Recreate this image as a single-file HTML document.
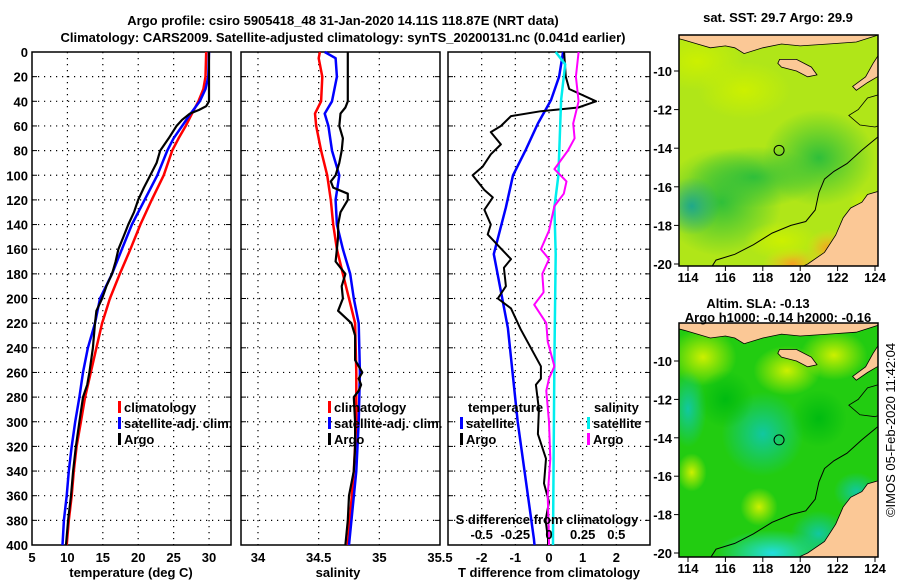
<!DOCTYPE html>
<html><head><meta charset="utf-8"><style>
body{margin:0;background:#fff}
svg text{font-family:"Liberation Sans",sans-serif;font-weight:bold;font-size:13px;fill:#000}
</style></head><body>
<svg id="c" width="900" height="580" viewBox="0 0 900 580" xmlns="http://www.w3.org/2000/svg">
<defs>
<radialGradient id="g1" cx="0.5" cy="0.5" r="0.5"><stop offset="0" stop-color="#2fbf3a"/><stop offset="1" stop-color="#2fbf3a" stop-opacity="0"/></radialGradient>
<radialGradient id="g2" cx="0.5" cy="0.5" r="0.5"><stop offset="0" stop-color="#1fa88a"/><stop offset="1" stop-color="#1fa88a" stop-opacity="0"/></radialGradient>
<radialGradient id="g3" cx="0.5" cy="0.5" r="0.5"><stop offset="0" stop-color="#f5a020"/><stop offset="1" stop-color="#f5d020" stop-opacity="0"/></radialGradient>
<radialGradient id="g4" cx="0.5" cy="0.5" r="0.5"><stop offset="0" stop-color="#ccf000"/><stop offset="1" stop-color="#ccf000" stop-opacity="0"/></radialGradient>
<radialGradient id="g5" cx="0.5" cy="0.5" r="0.5"><stop offset="0" stop-color="#11c8a0"/><stop offset="1" stop-color="#11c8a0" stop-opacity="0"/></radialGradient>
<radialGradient id="g6" cx="0.5" cy="0.5" r="0.5"><stop offset="0" stop-color="#22dde0"/><stop offset="1" stop-color="#22dde0" stop-opacity="0"/></radialGradient>
<radialGradient id="g7" cx="0.5" cy="0.5" r="0.5"><stop offset="0" stop-color="#00bb11"/><stop offset="1" stop-color="#00bb11" stop-opacity="0"/></radialGradient>
<clipPath id="cm1"><rect x="679" y="35" width="199" height="231"/></clipPath>
<clipPath id="cm2"><rect x="679" y="323" width="199" height="234"/></clipPath>
</defs>
<text x="343" y="25" text-anchor="middle" font-size="14">Argo profile: csiro 5905418_48 31-Jan-2020 14.11S 118.87E (NRT data)</text>
<text x="343" y="42" text-anchor="middle" font-size="14">Climatology: CARS2009. Satellite-adjusted climatology: synTS_20200131.nc (0.041d earlier)</text>
<g id="p1"></g>
<g id="p2"></g>
<g id="p3"></g>
<g id="m1"></g>
<g id="m2"></g>
<text x="778" y="22" text-anchor="middle">sat. SST: 29.7 Argo: 29.9</text>
<text x="758" y="308" text-anchor="middle">Altim. SLA: -0.13</text>
<text x="778" y="322" text-anchor="middle">Argo h1000: -0.14 h2000: -0.16</text>
<text transform="translate(895,430) rotate(-90)" text-anchor="middle" style="font-weight:normal">©IMOS 05-Feb-2020 11:42:04</text>
</svg>
<script>
// ---- data ----
const depthTicks=[0,20,40,60,80,100,120,140,160,180,200,220,240,260,280,300,320,340,360,380,400];
const tempTicks=[5,10,15,20,25,30];
const salTicks=[34,34.5,35,35.5];
const salTickLabels=["34","34.5","35","35.5"];
const tdTicks=[-2,-1,0,1,2];
const tdTickLabels=["-2","-1","0","1","2"];
const sdTicks=[-0.5,-0.25,0,0.25,0.5];
const sdTickLabels=["-0.5","-0.25","0","0.25","0.5"];

const tClimD=[0,20,30,40,50,60,70,80,100,120,140,160,180,200,220,240,260,280,300,320,340,360,380,400];
const tClimV=[29.6,29.5,29.2,28.5,27.6,26.7,25.7,24.8,23.6,21.9,20.3,18.9,17.4,16.0,14.9,14.1,13.3,12.5,11.9,11.3,10.9,10.6,10.2,9.9];
const tSatD=[0,20,30,40,50,60,70,80,100,120,140,160,180,200,220,240,260,280,300,320,340,360,380,400];
const tSatV=[30.0,29.9,29.5,28.7,27.4,26.2,25.0,24.1,22.7,20.9,19.1,17.7,16.3,14.6,13.9,12.9,12.2,11.7,11.1,10.6,10.2,9.9,9.5,9.3];
const tArgoD=[0,20,40,44,47,50,55,60,70,80,90,100,110,120,130,140,150,160,170,180,190,200,210,220,240,260,270,280,300,320,340,360,380,400];
const tArgoV=[30.0,30.0,30.0,29.6,28.6,27.3,26.2,25.4,24.3,23.1,22.6,21.7,20.8,20.0,19.4,18.6,17.9,17.2,16.8,16.3,15.5,14.9,14.1,13.9,13.6,13.1,12.8,12.2,11.7,11.2,10.8,10.5,10.1,9.8];

const sClimD=[0,5,20,40,50,60,80,100,120,140,160,180,200,220,260,300,340,400];
const sClimV=[34.51,34.50,34.53,34.52,34.47,34.48,34.52,34.57,34.60,34.62,34.65,34.70,34.75,34.80,34.81,34.81,34.79,34.74];
const sSatD=[0,5,20,40,50,60,80,100,120,140,160,180,200,220,260,300,340,400];
const sSatV=[34.55,34.64,34.65,34.61,34.55,34.58,34.61,34.67,34.64,34.65,34.70,34.76,34.79,34.83,34.84,34.83,34.81,34.75];
const sArgoD=[0,40,45,50,60,70,80,90,100,105,110,115,120,130,140,150,160,170,180,190,200,210,220,230,250,260,265,270,275,280,300,320,340,360,380,400];
const sArgoV=[34.74,34.74,34.72,34.68,34.67,34.70,34.69,34.67,34.64,34.60,34.62,34.74,34.74,34.68,34.66,34.66,34.65,34.64,34.72,34.69,34.70,34.66,34.77,34.80,34.80,34.86,34.83,34.85,34.83,34.79,34.80,34.80,34.79,34.75,34.74,34.72];

const dTSatD=[0,20,39,58,80,100,126,164,224,300,395,400];
const dTSatV=[0.42,0.3,0.06,-0.33,-0.7,-1.07,-1.28,-1.64,-1.22,-0.93,-0.45,-0.43];
const dTArgoD=[0,20,30,40,45,48,52,60,65,75,83,93,100,112,118,128,140,148,158,168,175,190,200,208,225,240,255,265,270,290,310,330,350,365,380,395,400];
const dTArgoV=[0.45,0.5,0.6,1.4,0.87,-0.24,-1.13,-1.43,-1.73,-1.43,-1.73,-1.97,-2.27,-1.92,-1.67,-1.92,-1.73,-1.82,-1.48,-1.13,-1.34,-1.28,-1.52,-1.13,-0.84,-0.54,-0.24,-0.24,-0.39,-0.3,-0.33,-0.09,-0.15,0.0,-0.1,-0.03,-0.03];
const dSSatD=[0,10,39,100,126,164,250,395,400];
const dSSatV=[0.05,0.12,0.09,0.07,0.04,0.05,0.04,0.03,0.03];
const dSArgoD=[0,20,40,58,70,80,95,105,115,125,145,160,168,180,195,205,220,235,255,265,275,300,330,360,395,400];
const dSArgoV=[0.22,0.2,0.22,0.18,0.19,0.14,0.04,0.13,0.11,0.04,0.0,-0.06,0.0,-0.05,-0.04,-0.11,-0.02,-0.01,0.04,0.0,-0.02,0.0,0.01,-0.01,0.0,0.0];

const mapLonTicks=[114,116,118,120,122,124];
const mapLatTicks=[-10,-12,-14,-16,-18,-20];
const floatLon=118.87, floatLat=-14.11;

// ---- helpers ----
const NS="http://www.w3.org/2000/svg";
function mk(tag,attrs,parent,txt){const e=document.createElementNS(NS,tag);for(const k in attrs)e.setAttribute(k,attrs[k]);if(txt!==undefined)e.textContent=txt;parent.appendChild(e);return e;}
const yTop=52,yBot=545;
function yD(d){return yTop+(d/400)*(yBot-yTop);}

function panel(g,x0,x1,dmin,dmax,ticks,labels,showDepth){
  const xs=v=>x0+(v-dmin)/(dmax-dmin)*(x1-x0);
  for(const d of depthTicks){if(d>0&&d<400){const l=mk('line',{x1:x0,x2:x1,y1:yD(d),y2:yD(d),stroke:'#000','stroke-width':1.2,'stroke-dasharray':'1.2 4.8'},g);}
    const t1=mk('line',{x1:x0,x2:x0+5,y1:yD(d),y2:yD(d),stroke:'#000'},g);
    const t2=mk('line',{x1:x1-5,x2:x1,y1:yD(d),y2:yD(d),stroke:'#000'},g);
    if(showDepth){const t=mk('text',{x:x0-4,y:yD(d)+5,'text-anchor':'end'},g,String(d));}}
  ticks.forEach((v,i)=>{const x=xs(v);
    if(x>x0+1&&x<x1-1){const l=mk('line',{x1:x,x2:x,y1:yTop,y2:yBot,stroke:'#000','stroke-width':1.2,'stroke-dasharray':'1.2 4.8'},g);}
    if(labels){const t=mk('text',{x:x,y:562,'text-anchor':'middle'},g,labels[i]);}});
  const r=mk('rect',{x:x0,y:yTop,width:x1-x0,height:yBot-yTop,fill:'none',stroke:'#000','stroke-width':1.5},g);
  return xs;
}
function line(g,xs,D,V,color,w,name,scale){const pts=D.map((d,i)=>xs(V[i]*(scale||1)).toFixed(1)+','+yD(d).toFixed(1)).join(' ');
  const p=mk('polyline',{points:pts,fill:'none',stroke:color,'stroke-width':w,'stroke-linejoin':'round'},g);}
function legend(g,x,y,items){items.forEach((it,i)=>{const yy=y+i*16;
  const m=mk('rect',{x:x,y:yy-10,width:3,height:12,fill:it[1]},g);
  const t=mk('text',{x:x+6,y:yy+1},g,it[0]);});}

// panel 1
const p1=document.getElementById('p1');
const xT=panel(p1,32,231,5,33.1,tempTicks,tempTicks.map(String),true);
line(p1,xT,tClimD,tClimV,'#f00',2.5,'climatology-temp-line');
line(p1,xT,tSatD,tSatV,'#00f',2.5,'satellite-temp-line');
line(p1,xT,tArgoD,tArgoV,'#000',2.2,'argo-temp-line');
legend(p1,118,411,[['climatology','#f00'],['satellite-adj. clim.','#00f'],['Argo','#000']]);
mk('text',{x:131,y:577,'text-anchor':'middle',},p1,'temperature (deg C)');

// panel 2
const p2=document.getElementById('p2');
const xS=panel(p2,241,440,33.86,35.5,salTicks,salTickLabels,false);
line(p2,xS,sClimD,sClimV,'#f00',2.5,'climatology-sal-line');
line(p2,xS,sSatD,sSatV,'#00f',2.5,'satellite-sal-line');
line(p2,xS,sArgoD,sArgoV,'#000',2.2,'argo-sal-line');
legend(p2,328,411,[['climatology','#f00'],['satellite-adj. clim.','#00f'],['Argo','#000']]);
mk('text',{x:338,y:577,'text-anchor':'middle',},p2,'salinity');

// panel 3
const p3=document.getElementById('p3');
const xD=panel(p3,448,650,-3,3,tdTicks,tdTickLabels,false);
line(p3,xD,dTSatD,dTSatV,'#00f',2.5,'satellite-temp-diff-line');
line(p3,xD,dTArgoD,dTArgoV,'#000',2,'argo-temp-diff-line');
line(p3,xD,dSSatD,dSSatV,'#0ee',2.5,'satellite-sal-diff-line',4);
line(p3,xD,dSArgoD,dSArgoV,'#f0f',2,'argo-sal-diff-line',4);
mk('text',{x:468,y:412,},p3,'temperature');
mk('text',{x:594,y:412,},p3,'salinity');
legend(p3,460,427,[['satellite','#00f'],['Argo','#000']]);
legend(p3,587,427,[['satellite','#0ee'],['Argo','#f0f']]);
mk('text',{x:547,y:524,'text-anchor':'middle',},p3,'S difference from climatology');
sdTicks.forEach((v,i)=>{const t=mk('text',{x:xD(v*4),y:539,'text-anchor':'middle'},p3,sdTickLabels[i]);});
mk('text',{x:549,y:577,'text-anchor':'middle',},p3,'T difference from climatology');

// maps
function map(gid,top,bot,lat10y,latScale,base,blobs,clip){
  const g=document.getElementById(gid);
  const lx=l=>688+(l-114)*18.7, ly=la=>lat10y+(-10-la)*latScale;
  const cg=mk('g',{'clip-path':'url(#'+clip+')'},g);
  mk('rect',{x:679,y:top,width:199,height:bot-top,fill:base,},cg);
  blobs.forEach(b=>{const e=mk('ellipse',{cx:lx(b[0]),cy:ly(b[1]),rx:b[2]*18.7,ry:b[3]*latScale,fill:'url(#'+b[4]+')'},cg);});
  const P=a=>a.map(p=>lx(p[0]).toFixed(1)+','+ly(p[1]).toFixed(1)).join(' ');
  const land='#fbc896';
  const lands=[
    [[113.4,-7.9],[124.3,-7.9],[124.3,-8.1],[123,-8.5],[121.5,-8.6],[120,-8.7],[119,-8.6],[118,-8.8],[117,-9.1],[116.5,-8.8],[116,-8.7],[115.2,-8.8],[114.5,-8.6],[113.8,-8.4],[113.4,-8.3]],
    [[118.9,-9.4],[119.8,-9.4],[120.6,-9.8],[120.9,-10.2],[120.4,-10.3],[119.8,-10.0],[119.0,-9.8],[118.8,-9.6]],
    [[122.8,-10.8],[123.5,-10.3],[123.9,-9.6],[124.3,-9.0],[124.3,-10.2],[123.6,-10.6],[123,-11]],
    [[119.5,-20.4],[120.4,-20.0],[121.3,-19.4],[121.9,-18.5],[122.3,-17.6],[122.7,-17.1],[123.3,-16.8],[123.6,-16.4],[124.3,-16.2],[124.3,-20.4]]
  ];
  lands.forEach(a=>{const p=mk('polygon',{points:P(a),fill:land,stroke:'#000','stroke-width':0.8},cg);});
  const cont=[[115.1,-20.4],[115.5,-19.8],[116.5,-19.5],[117.5,-19.0],[118.5,-18.4],[119.5,-18.0],[120.3,-17.8],[120.8,-17.2],[121.0,-16.3],[121.3,-15.6],[121.8,-15.2],[122.5,-14.8],[123.3,-14.1],[123.8,-13.7],[124.3,-13.3]];
  const c=mk('polyline',{points:P(cont),fill:'none',stroke:'#000','stroke-width':1},cg);
  const cont2=[[124.3,-11.2],[123.6,-11.4],[123.1,-12.0],[122.6,-12.3],[123.2,-12.8],[124.0,-12.9],[124.3,-12.8]];
  const c2=mk('polyline',{points:P(cont2),fill:'none',stroke:'#000','stroke-width':0.8},cg);
  const ci=mk('circle',{cx:lx(floatLon),cy:ly(floatLat),r:5,fill:'none',stroke:'#000','stroke-width':1},g);
  mk('rect',{x:679,y:top,width:199,height:bot-top,fill:'none',stroke:'#000','stroke-width':1.5,},g);
  mapLatTicks.forEach(la=>{const y=ly(la);mk('line',{x1:674,x2:679,y1:y,y2:y,stroke:'#000'},g);
    const t=mk('text',{x:672,y:y+5,'text-anchor':'end'},g,String(la));});
  mapLonTicks.forEach(lo=>{const x=lx(lo);mk('line',{x1:x,x2:x,y1:bot,y2:bot+5,stroke:'#000'},g);
    const t=mk('text',{x:x,y:bot+16,'text-anchor':'middle'},g,String(lo));});
}
map('m1',35,266,71,19.3,'#b0e618',[[115.8,-16.8,3.2,2.8,'g1'],[117.5,-15.5,3.5,1.6,'g1'],[121,-14.5,3,2.5,'g1'],[114.2,-17,1.5,1.5,'g2'],[119.6,-20,1.6,0.9,'g3'],[121.5,-19.2,1.2,1,'g3'],[114.5,-9.5,2.5,1.5,'g4'],[117,-11,2.5,1.5,'g4'],[119,-18.8,2,1,'g4'],[123.4,-17,0.8,0.8,'g4']],'cm1');
map('m2',323,557,361,19.2,'#22cc11',[[114.8,-9.8,1.8,1.5,'g4'],[119.3,-10.5,1.8,1.3,'g4'],[121.8,-9.7,1.8,1.3,'g4'],[114.2,-15.8,0.8,1,'g4'],[117.8,-17.6,1,1,'g4'],[118,-13.8,2.2,2.2,'g5'],[114,-12.5,1,2,'g5'],[118.5,-20,3,1.2,'g6'],[121,-19,1.5,1.2,'g5'],[123,-16.8,1.2,1,'g5'],[116,-12,1.5,1.5,'g7'],[121,-13,1.5,1.5,'g7']],'cm2');
</script>
</body></html>
